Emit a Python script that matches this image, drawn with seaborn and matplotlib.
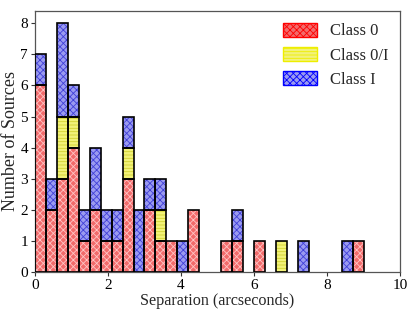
import numpy as np
import pandas as pd
import matplotlib
matplotlib.use('Agg')
import matplotlib.pyplot as plt
import seaborn as sns
from matplotlib.patches import Patch, Rectangle

# Counts per 0.3 arcsec bin (0 - 9 arcsec)
bin_width = 0.3
bin_range = (0, 9)
class0 = [6, 2, 3, 4, 1, 2, 1, 1, 3, 0, 2, 1, 1, 0, 2, 0, 0, 1, 1, 0, 1, 0, 0, 0, 0, 0, 0, 0, 0, 1]
class0_i = [0, 0, 2, 1, 0, 0, 0, 0, 1, 0, 0, 1, 0, 0, 0, 0, 0, 0, 0, 0, 0, 0, 1, 0, 0, 0, 0, 0, 0, 0]
class1 = [1, 1, 3, 1, 1, 2, 1, 1, 1, 2, 1, 1, 0, 1, 0, 0, 0, 0, 1, 0, 0, 0, 0, 0, 1, 0, 0, 0, 1, 0]
labels = ['Class 0', 'Class 0/I', 'Class I']

sns.set_style('ticks')
plt.rcParams['font.family'] = ['Liberation Serif', 'DejaVu Serif']
plt.rcParams['hatch.linewidth'] = 0.6

centers = np.arange(len(class0)) * bin_width + bin_width / 2
rows = []
for lab, counts in zip(labels, [class0, class0_i, class1]):
    for c, n in zip(centers, counts):
        rows.append({'sep': c, 'cls': lab, 'n': n})
df = pd.DataFrame(rows)

face = {'Class 0': '#f26b6b', 'Class 0/I': '#f2f27a', 'Class I': '#9a9af0'}
hatch_col = {'Class 0': '#ffc4c4', 'Class 0/I': '#d2d230', 'Class I': '#4040d8'}
hatches = {'Class 0': 'xxxxx', 'Class 0/I': '-----', 'Class I': 'xxxxx'}
legend_edge = {'Class 0': 'red', 'Class 0/I': '#eeee00', 'Class I': 'blue'}

fig = plt.figure(figsize=(4.15, 3.11), dpi=100)
ax = fig.add_axes([0.0843, 0.1264, 0.8796, 0.8382])

# seaborn puts the first hue level on top of the stack, so reverse
sns.histplot(data=df, x='sep', weights='n', hue='cls', hue_order=labels[::-1],
             multiple='stack', binwidth=bin_width, binrange=bin_range,
             palette=face, alpha=1, linewidth=0, legend=False, ax=ax)

# map each container back to its class via facecolor
for cont in ax.containers:
    fc = np.array(cont.patches[0].get_facecolor())
    lab = min(labels, key=lambda l: np.abs(np.array(matplotlib.colors.to_rgba(face[l])) - fc).sum())
    for p in cont.patches:
        p.set_hatch(hatches[lab])
        p.set_edgecolor(hatch_col[lab])
        if p.get_height() > 0:
            ax.add_patch(Rectangle(p.get_xy(), p.get_width(), p.get_height(),
                                   fill=False, ec='black', lw=1.2, zorder=3))

ax.set_xlim(0, 10)
ax.set_ylim(0, 8.4)
ax.set_xticks(range(0, 11, 2))
ax.set_yticks(range(0, 9))
ax.tick_params(direction='out', length=3, width=0.8, labelsize=11, colors='#333333',
               labelcolor='black', pad=2)
for s in ax.spines.values():
    s.set_color('#555555')
    s.set_linewidth(0.9)
    s.set_visible(True)

ax.set_xlabel('Separation (arcseconds)', fontsize=11.6, labelpad=1)
ax.set_ylabel('Number of Sources', fontsize=13, labelpad=1)

handles = [Patch(facecolor=face[l], edgecolor=legend_edge[l], hatch=hatches[l], label=l)
           for l in labels]
ax.legend(handles=handles, loc='upper right', frameon=False, fontsize=12,
          handlelength=2.0, handleheight=0.9, handletextpad=0.8,
          borderaxespad=0.3, labelspacing=0.45)

fig.savefig('out.png', dpi=100)
